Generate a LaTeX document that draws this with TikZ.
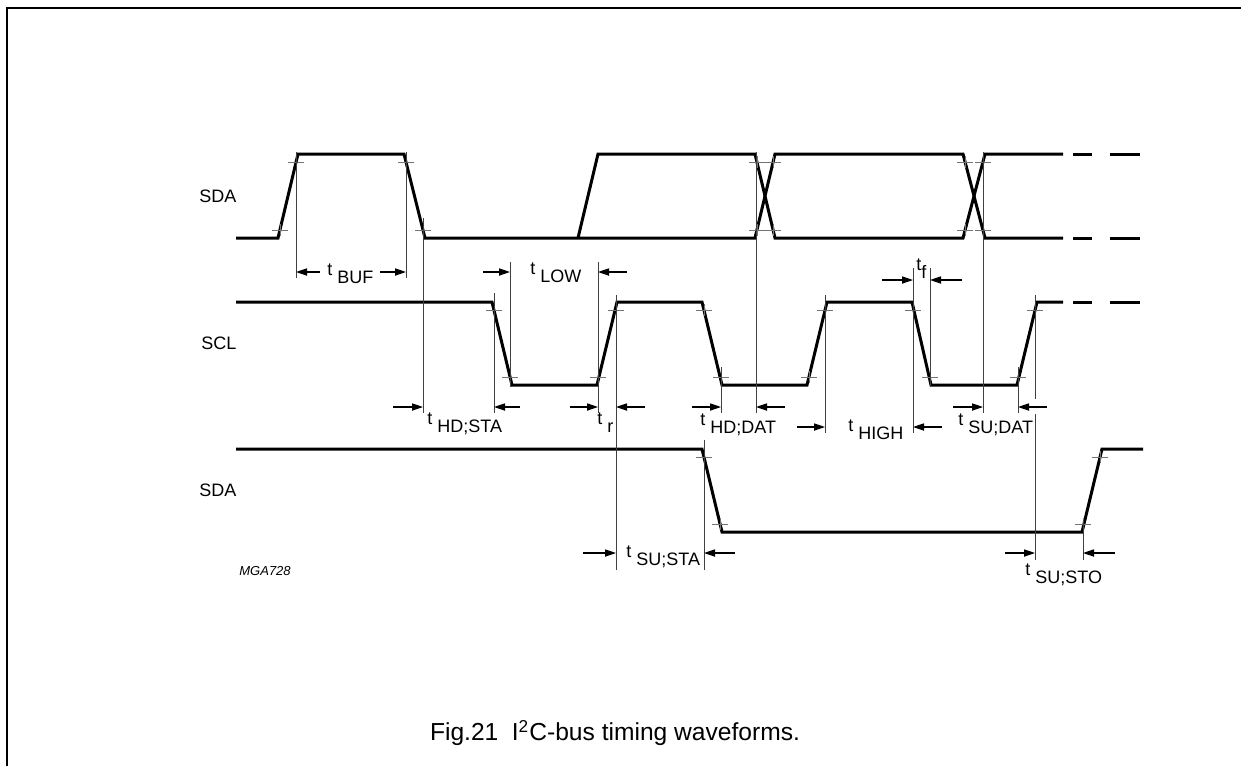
\documentclass[tikz,border=0pt]{standalone}
\usepackage{fontspec}
\setmainfont{Liberation Sans}
\usetikzlibrary{arrows.meta}
\newcommand{\tsym}[1]{\raisebox{0.42em}{t} #1}
\newcommand{\tsymnosp}[1]{\raisebox{0.42em}{t}#1}
\begin{document}
\begin{tikzpicture}[x=0.5pt,y=-0.5pt,
  wave/.style={line width=1.5pt, line join=miter},
  guide/.style={line width=0.5pt, black!75},
  tickmark/.style={line width=0.45pt, black!55},
  dim/.style={line width=0.55pt, -{Triangle[length=5.5pt,width=3.6pt]}},
  lab/.style={font=\fontsize{9pt}{10pt}\selectfont, inner sep=0pt, anchor=base west},
  sig/.style={font=\fontsize{9pt}{10pt}\selectfont, inner sep=0pt, anchor=west},
]
\useasboundingbox (0,0) rectangle (1241,766);
% frame
\draw[line width=1pt] (7,766) -- (7,8) -- (1241,8);

% ---------- top SDA ----------
\draw[wave] (236,238) -- (278,238) -- (298,154) -- (404,154) -- (425,238) -- (755,238) -- (775,154) -- (963,154) -- (985,238) -- (1063,238);
\draw[wave] (578,238) -- (598,154) -- (755,154) -- (775,238) -- (963,238) -- (985,154) -- (1063,154);
\draw[wave] (1073,154) -- (1092,154) (1110,154) -- (1140,154);
\draw[wave] (1073,238) -- (1092,238) (1110,238) -- (1140,238);

% ---------- SCL ----------
\draw[wave] (236,302) -- (492,302) -- (512,385) -- (597,385) -- (617,302) -- (702,302) -- (722,385) -- (807,385) -- (827,302) -- (912,302) -- (931,385) -- (1017,385) -- (1037,302) -- (1063,302);
\draw[wave] (1073,302) -- (1092,302) (1110,302) -- (1140,302);

% ---------- bottom SDA ----------
\draw[wave] (236,449) -- (702,449) -- (722,532) -- (1082,532) -- (1102,449) -- (1143,449);

% ---------- tick crosses ----------
\foreach \px/\py in {280/230,296/162,406/162,423/230,757/162,773/162,757/230,773/230,965/162,983/162,965/230,983/230,
  494/310,510/377,598/377,616/310,704/310,721/377,809/377,825/310,913/310,930/377,1018/377,1035/310,
  704/457,720/524,1083/524,1100/457}
  \draw[tickmark] (\px-8,\py) -- (\px+8,\py) (\px,\py-6) -- (\px,\py+6);

% ---------- guide lines ----------
\draw[guide] (296,152) -- (296,278);
\draw[guide] (406,152) -- (406,278);
\draw[guide] (423,218) -- (423,413);
\draw[guide] (494,293) -- (494,413);
\draw[guide] (510,262) -- (510,387);
\draw[guide] (598,262) -- (598,413);
\draw[guide] (616,295) -- (616,570);
\draw[guide] (721,367) -- (721,413);
\draw[guide] (756,152) -- (756,413);
\draw[guide] (825,295) -- (825,433);
\draw[guide] (913,268) -- (913,433);
\draw[guide] (930,268) -- (930,387);
\draw[guide] (983,152) -- (983,413);
\draw[guide] (1018,367) -- (1018,413);
\draw[guide] (1035,295) -- (1035,399);
\draw[guide] (1035,414) -- (1035,560);
\draw[guide] (704,440) -- (704,570);
\draw[guide] (1083,520) -- (1083,560);

% ---------- dimension arrows ----------
\draw[dim] (320,272) -- (296,272);
\draw[dim] (380,272) -- (406,272);
\draw[dim] (483,272) -- (510,272);
\draw[dim] (627,272) -- (598,272);
\draw[dim] (393,407) -- (423,407);
\draw[dim] (520,407) -- (494,407);
\draw[dim] (570,407) -- (598,407);
\draw[dim] (645,407) -- (616,407);
\draw[dim] (692,407) -- (721,407);
\draw[dim] (785,407) -- (756,407);
\draw[dim] (797,427) -- (825,427);
\draw[dim] (942,427) -- (913,427);
\draw[dim] (882,280) -- (913,280);
\draw[dim] (962,280) -- (930,280);
\draw[dim] (953,407) -- (983,407);
\draw[dim] (1047,407) -- (1018,407);
\draw[dim] (583,553) -- (616,553);
\draw[dim] (735,553) -- (704,553);
\draw[dim] (1005,553) -- (1035,553);
\draw[dim] (1115,553) -- (1083,553);

% ---------- labels ----------
\node[lab] (lbuf) at (327,283) {\tsym{BUF}};
\node[lab] (llow) at (530,282) {\tsym{LOW}};
\node[lab] (lhdsta) at (427,432) {\tsym{HD;STA}};
\node[lab] (lr) at (597,432) {\tsym{r}};
\node[lab] (lhddat) at (700,433) {\tsym{HD;DAT}};
\node[lab] (lhigh) at (848,439) {\tsym{HIGH}};
\node[lab] (lf) at (916,278) {\tsymnosp{f}};
\node[lab] (lsudat) at (958,433) {\tsym{SU;DAT}};
\node[lab] (lsusta) at (626,565) {\tsym{SU;STA}};
\node[lab] (lsusto) at (1025,583) {\tsym{SU;STO}};

\node[sig] (sda1) at (199,196) {SDA};
\node[sig] (scl) at (201,343) {SCL};
\node[sig] (sda2) at (199,490) {SDA};

\node[inner sep=0pt, anchor=west, font=\fontsize{6.5pt}{7pt}\selectfont\itshape] (code) at (239,571) {MGA728};

\node[inner sep=0pt, font=\fontsize{12.3pt}{14pt}\selectfont] (cap) at (615,733) {Fig.21\hspace{0.55em}I\textsuperscript{2}C-bus timing waveforms.};
\end{tikzpicture}
\end{document}
